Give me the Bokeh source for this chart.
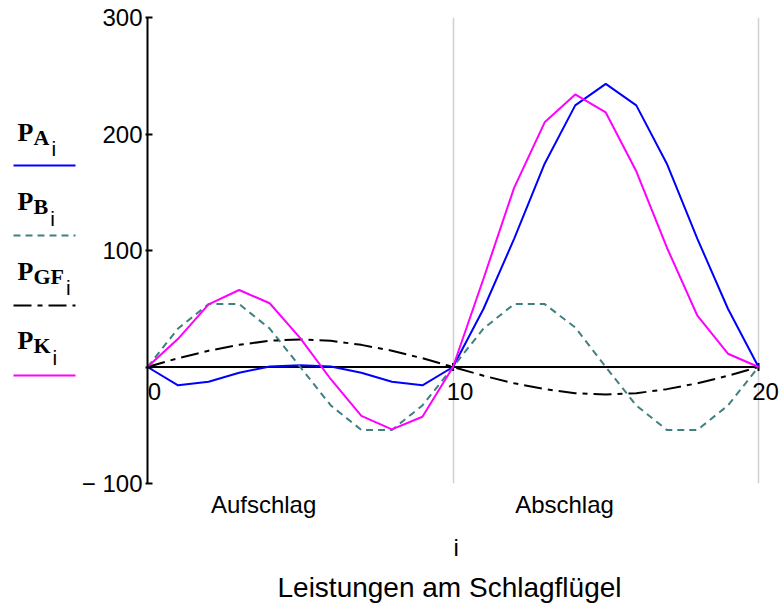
from bokeh.plotting import figure
from bokeh.models import Range1d, FixedTicker, ColumnDataSource, LabelSet, LinearAxis
from bokeh.layouts import row
from bokeh.core.properties import value
from bokeh.embed import file_html
from bokeh.resources import INLINE

# step index over one wing beat: upstroke 0..10, downstroke 10..20
idx = list(range(21))

# power components per step
P_A = [0, -15.7, -12.6, -4.9, 0.5, 1.5, 0.5, -4.9, -12.6, -15.7,
       0, 50, 110, 174.5, 224.6, 243, 224.6, 174.5, 110, 50, 0]
P_B = [0, 33, 54, 54, 33, 0, -33, -54, -54, -33,
       0, 33, 54, 54, 34, 0, -33, -54, -54, -33, 0]
P_GF = [0, 7.5, 14, 19, 22.5, 23.7, 22.5, 19, 14, 7.5,
        0, -7.5, -14, -19, -22.5, -23.7, -22.5, -19, -14, -7.5, 0]
P_K = [0, 24.2, 53.8, 66.1, 54.7, 24.8, -10.5, -41.9, -53.5, -42.7,
       0, 76, 153.8, 210, 234, 218.5, 168, 102.6, 44, 11.4, 0]

series_subs = ["A", "B", "GF", "K"]
series_values = [P_A, P_B, P_GF, P_K]
colors = ["#0000FF", "#408080", "#000000", "#FF00FF"]
dashes = ["solid", "7 5", "18 6 5 6", "solid"]

y_ticks = [-100, 0, 100, 200, 300]
y_tick_labels = {-100: "\u2212 100", 0: ""}
x_ticks = [0, 10, 20]
phase_labels = ["Aufschlag", "Abschlag"]
phase_pos = [3.8, 13.65]
index_label = "i"
index_label_pos = 10.1

SANS = "Liberation Sans"
SERIF = "Liberation Serif"

FRAME_TOP = 17
FRAME_BOTTOM = 127

# ---- main chart ----
p = figure(width=702, height=610, x_range=Range1d(0, 20.72), y_range=Range1d(-100, 300),
           output_backend="svg", toolbar_location=None, title_location="below",
           min_border_left=69, min_border_right=0,
           min_border_top=FRAME_TOP, min_border_bottom=FRAME_BOTTOM)
p.background_fill_color = "white"
p.border_fill_color = "white"
p.outline_line_color = None

p.ygrid.visible = False
p.xgrid.ticker = FixedTicker(ticks=x_ticks[1:])
p.xgrid.grid_line_color = "#d0d0d0"
p.xgrid.grid_line_width = 1.5

# left axis
p.yaxis.ticker = FixedTicker(ticks=y_ticks)
p.yaxis.major_label_overrides = y_tick_labels
p.yaxis.axis_line_color = "black"
p.yaxis.axis_line_width = 2
p.yaxis.major_tick_line_width = 2
p.yaxis.major_tick_in = 5
p.yaxis.major_tick_out = 2
p.yaxis.minor_tick_line_color = None
p.yaxis.major_label_text_font = SANS
p.yaxis.major_label_text_font_size = "24px"
p.yaxis.major_label_text_color = "black"
p.yaxis.major_label_standoff = 3


def plain_below(axis, standoff):
    axis.axis_line_color = None
    axis.major_tick_line_color = None
    axis.minor_tick_line_color = None
    axis.major_label_text_font = SANS
    axis.major_label_text_font_size = "24px"
    axis.major_label_text_color = "black"
    axis.major_label_standoff = standoff


# bottom axis carries the phase names
p.xaxis.ticker = FixedTicker(ticks=phase_pos)
p.xaxis.major_label_overrides = {pos: lab for pos, lab in zip(phase_pos, phase_labels)}
plain_below(p.xaxis[0], 1)

# second bottom axis carries the index name
idx_axis = LinearAxis(ticker=FixedTicker(ticks=[index_label_pos]),
                      major_label_overrides={index_label_pos: index_label})
plain_below(idx_axis, 7)
p.add_layout(idx_axis, "below")

p.title.text = "Leistungen am Schlagflügel"
p.title.text_font = SANS
p.title.text_font_size = "28px"
p.title.text_font_style = "normal"
p.title.text_color = "black"
p.title.align = "left"
p.title.offset = 130
p.title.standoff = 13

# zero line acting as the horizontal axis, with its ticks and labels
p.line(x=[x_ticks[0], x_ticks[-1]], y=[0, 0], line_color="black", line_width=2)
p.segment(x0=x_ticks[1:], y0=[-3.5] * 2, x1=x_ticks[1:], y1=[3.5] * 2,
          line_color="black", line_width=2)
tick_src = ColumnDataSource(dict(x=x_ticks, y=[0] * len(x_ticks), t=[str(t) for t in x_ticks]))
p.add_layout(LabelSet(x="x", y="y", text="t", source=tick_src, x_offset=7, y_offset=-24,
                      text_align="center", text_baseline="middle",
                      text_font=value(SANS), text_font_size="24px", text_color="black"))

for vals, col, dash in zip(series_values, colors, dashes):
    p.line(idx, vals, line_color=col, line_width=2, line_dash=dash)

# ---- legend panel on the left (pixel coordinates, y downward) ----
leg_top, leg_bottom = FRAME_TOP, 610 - FRAME_BOTTOM
leg = figure(width=78, height=610, x_range=Range1d(0, 78), y_range=Range1d(leg_bottom, leg_top),
             output_backend="svg", toolbar_location=None, x_axis_type=None, y_axis_type=None,
             min_border_left=0, min_border_right=0,
             min_border_top=FRAME_TOP, min_border_bottom=FRAME_BOTTOM)
leg.grid.visible = False
leg.outline_line_color = None
leg.background_fill_color = "white"
leg.border_fill_color = "white"

# Times bold advance widths (em) for the subscript letters
adv = {"A": 0.722, "B": 0.667, "G": 0.778, "F": 0.611, "K": 0.778}
sub_px = 22
for k, (sub, col, dash) in enumerate(zip(series_subs, colors, dashes)):
    base = 131.7 + 69.5 * k
    leg.text(x=[17], y=[base], text=["P"], text_font=value(SERIF), text_font_style="bold",
             text_font_size="26px", text_baseline="alphabetic", text_color="black")
    leg.text(x=[33], y=[base + 5], text=[sub], text_font=value(SERIF), text_font_style="bold",
             text_font_size=f"{sub_px}px", text_baseline="alphabetic", text_color="black")
    w = sum(adv[c] for c in sub) * sub_px
    leg.text(x=[33 + w + 2], y=[base + 16.5], text=["i"], text_font=value(SANS),
             text_font_size="21px", text_baseline="alphabetic", text_color="black")
    ly = 165 + 70 * k
    leg.line([13, 75], [ly, ly], line_color=col, line_width=2, line_dash=dash)

layout = row(leg, p, spacing=0)
open("out.html", "w").write(file_html(layout, INLINE))
